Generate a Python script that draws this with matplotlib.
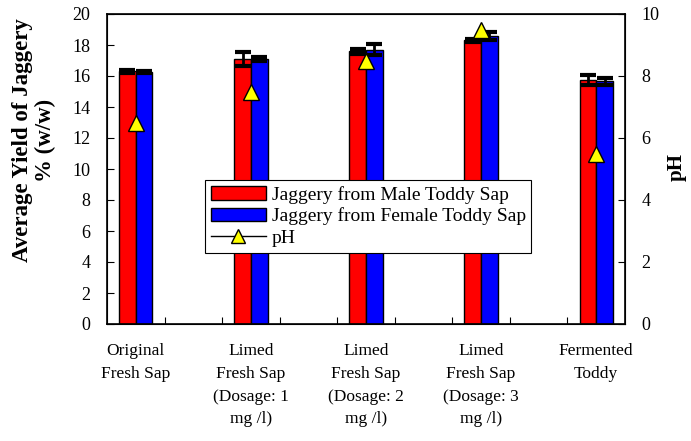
import matplotlib
matplotlib.use("Agg")
import matplotlib.pyplot as plt
import numpy as np
from matplotlib.lines import Line2D

plt.rcParams['font.family'] = ['Liberation Serif', 'DejaVu Serif']

categories = ["Original\nFresh Sap", "Limed\nFresh Sap\n(Dosage: 1\nmg /l)",
              "Limed\nFresh Sap\n(Dosage: 2\nmg /l)", "Limed\nFresh Sap\n(Dosage: 3\nmg /l)",
              "Fermented\nToddy"]
male = [16.3, 17.1, 17.6, 18.3, 15.75]
male_err = [0.1, 0.45, 0.15, 0.1, 0.3]
female = [16.25, 17.1, 17.7, 18.6, 15.65]
female_err = [0.08, 0.1, 0.35, 0.25, 0.25]
ph = [6.5, 7.5, 8.5, 9.5, 5.5]

fig = plt.figure(figsize=(6.91, 4.41), dpi=100)
ax = fig.add_axes([107/691, 1-324/441, 518/691, 310/441])
x = np.arange(len(categories)) * 2 + 0.5
w = 0.29
ax.bar(x - w/2, male, w, color='#ff0000', edgecolor='black', linewidth=1,
       label='Jaggery from Male Toddy Sap', zorder=2)
ax.bar(x + w/2, female, w, color='#0000ff', edgecolor='black', linewidth=1,
       label='Jaggery from Female Toddy Sap', zorder=2)
ax.errorbar(x - w/2, male, yerr=male_err, fmt='none', ecolor='black',
            elinewidth=2, capsize=5.5, capthick=3, zorder=3)
ax.errorbar(x + w/2, female, yerr=female_err, fmt='none', ecolor='black',
            elinewidth=2, capsize=5.5, capthick=3, zorder=3)
ax.set_xlim(0, 9)
ax.set_ylim(0, 20)
ax.set_yticks(np.arange(0, 21, 2))
ax.set_xticks(np.arange(1, 9))
ax.set_xticklabels([])
ax.set_xticks(x, minor=True)
ax.set_xticklabels(categories, minor=True, fontsize=12.5, linespacing=1.55)
ax.tick_params(axis='x', which='minor', length=0, pad=14)
ax.tick_params(axis='x', which='major', direction='in', length=5)
ax.tick_params(axis='y', direction='in', length=5, labelsize=13, pad=12)
for s in ax.spines.values():
    s.set_linewidth(1.2)

fig.text(34/691, 1-140/441, "Average Yield of Jaggery\n% (w/w)", rotation=90,
         ha='center', va='center', multialignment='center', fontsize=16.5,
         fontweight='bold', linespacing=1.1)

ax2 = ax.twinx()
ax2.set_ylim(0, 10)
ax2.set_yticks(np.arange(0, 11, 2))
ax2.tick_params(axis='y', direction='in', length=5, labelsize=13, pad=12)
ax2.plot(x, ph, linestyle='none', marker='^', markersize=12, markerfacecolor='#ffff00',
         markeredgecolor='black', markeredgewidth=1, zorder=4)
fig.text(677/691, 1-167/441, "pH", rotation=90, ha='center', va='center',
         fontsize=15, fontweight='bold')

handles, labels = ax.get_legend_handles_labels()
ph_handle = Line2D([], [], color='black', linewidth=1, marker='^', markersize=10,
                   markerfacecolor='#ffff00', markeredgecolor='black')
leg = ax2.legend(handles + [ph_handle], labels + ['pH'], loc='upper left',
                 bbox_to_anchor=(0.19, 0.465), fontsize=14, frameon=True, fancybox=False,
                 edgecolor='black', framealpha=1, borderpad=0.3, labelspacing=0.2,
                 handlelength=2.8, handletextpad=0.3, borderaxespad=0)
leg.get_frame().set_linewidth(0.8)

fig.savefig("out.png", dpi=100)
